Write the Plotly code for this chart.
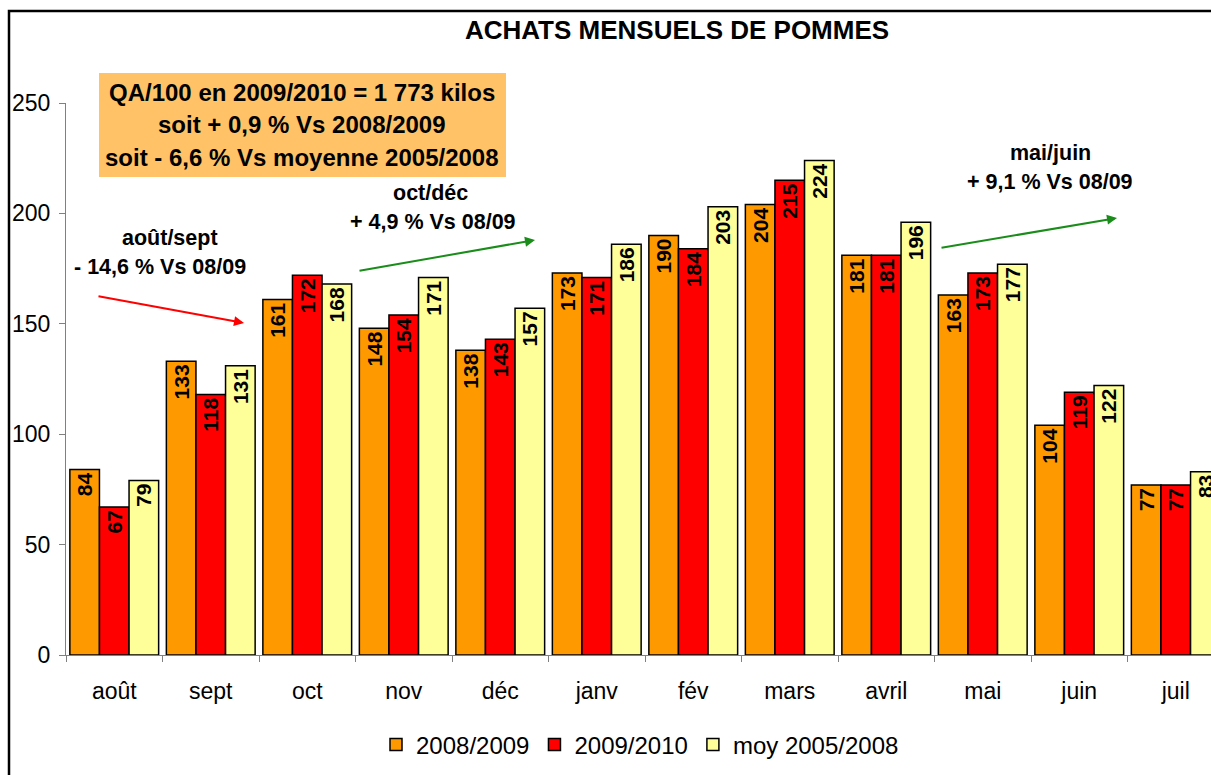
import plotly.graph_objects as go

mois = ["août", "sept", "oct", "nov", "déc", "janv", "fév", "mars", "avril", "mai", "juin", "juil"]
achats_2008_2009 = [84, 133, 161, 148, 138, 173, 190, 204, 181, 163, 104, 77]
achats_2009_2010 = [67, 118, 172, 154, 143, 171, 184, 215, 181, 173, 119, 77]
moy_2005_2008 = [79, 131, 168, 171, 157, 186, 203, 224, 196, 177, 122, 83]

W, H = 1211, 775
L, R, T, B = 66, 0, 103, 120
PW, PH = W - L - R, H - T - B
CAT_W = 96.5  # pixel width of one month in the original chart


# pixel in the original picture -> paper coordinates
def px(x):
    return (x - L) / PW


def py(y):
    return (H - B - y) / PH


FONT = "Arial, Liberation Sans, sans-serif"

fig = go.Figure()
series = [
    ("2008/2009", achats_2008_2009, "#FF9900"),
    ("2009/2010", achats_2009_2010, "#FF0000"),
    ("moy 2005/2008", moy_2005_2008, "#FFFF99"),
]
for name, vals, col in series:
    fig.add_trace(go.Bar(
        x=mois, y=vals, name=name,
        marker=dict(color=col, line=dict(color="black", width=1.5)),
        text=[str(v) for v in vals], textposition="inside", textangle=-90,
        insidetextanchor="end",
        textfont=dict(family=FONT, size=21, color="black", weight="bold"),
    ))

fig.update_layout(
    width=W, height=H, autosize=False,
    margin=dict(l=L, r=R, t=T, b=B),
    paper_bgcolor="white", plot_bgcolor="white",
    barmode="group", bargap=0.08, bargroupgap=0,
    font=dict(family=FONT, color="black"),
    title=dict(text="<b>ACHATS MENSUELS DE POMMES</b>", x=677 / W, xanchor="center",
               y=1 - 30 / H, yanchor="middle", font=dict(size=26, family=FONT)),
    legend=dict(orientation="h", x=px(640), xanchor="center", y=py(745), yanchor="middle",
                font=dict(size=24, family=FONT), traceorder="normal"),
    xaxis=dict(range=[-0.5, -0.5 + PW / CAT_W], showline=True, linecolor="#808080", linewidth=1,
               ticks="outside", tickson="boundaries", ticklen=6, tickcolor="#808080",
               tickfont=dict(size=23), showgrid=False, ticklabelstandoff=15),
    yaxis=dict(range=[0, 250], dtick=50, showline=True, linecolor="#808080", linewidth=1,
               ticks="outside", ticklen=6, tickcolor="#808080", tickfont=dict(size=23),
               showgrid=False, zeroline=False, ticklabelstandoff=4),
)

# outer frame of the chart (cut on the right and bottom)
fig.add_shape(type="rect", xref="paper", yref="paper",
              x0=px(9), y0=py(900), x1=px(1400), y1=py(11),
              line=dict(color="black", width=2.5), layer="above")

# orange summary box
fig.add_shape(type="rect", xref="paper", yref="paper",
              x0=px(99), y0=py(177), x1=px(506), y1=py(73),
              fillcolor="#FFC266", line=dict(width=0), layer="below")
box_lines = ["QA/100 en 2009/2010 = 1 773 kilos",
             "soit + 0,9 % Vs 2008/2009",
             "soit - 6,6 % Vs moyenne 2005/2008"]
for txt, yy in zip(box_lines, [93, 125, 157]):
    fig.add_annotation(text="<b>" + txt + "</b>", xref="paper", yref="paper",
                       x=px(302), y=py(yy), xanchor="center", yanchor="middle",
                       showarrow=False, font=dict(size=24, family=FONT))

notes = [
    ("août/sept", 170, 238), ("- 14,6 % Vs 08/09", 160, 267),
    ("oct/déc", 430, 193), ("+ 4,9 % Vs 08/09", 433, 222),
    ("mai/juin", 1050, 153), ("+ 9,1 % Vs 08/09", 1050, 182),
]
for txt, xx, yy in notes:
    fig.add_annotation(text="<b>" + txt + "</b>", xref="paper", yref="paper",
                       x=px(xx), y=py(yy), xanchor="center", yanchor="middle",
                       showarrow=False, font=dict(size=21.5, family=FONT))

# trend arrows (head, tail)
arrows = [
    ((244, 323), (97, 296), "#FF0000"),
    ((535, 240), (358, 271), "#1A8C1A"),
    ((1117, 218), (940, 248), "#1A8C1A"),
]
for (hx, hy), (tx, ty), col in arrows:
    fig.add_annotation(text="", xref="paper", yref="paper", x=px(hx), y=py(hy),
                       ax=tx - hx, ay=ty - hy, showarrow=True,
                       arrowhead=2, arrowsize=1, arrowwidth=2, arrowcolor=col)

# drop the default page margin so the figure fills the window exactly
fig.write_html("out.html", config={"displayModeBar": False},
               post_script="document.body.style.margin='0';document.body.style.overflow='hidden';")
